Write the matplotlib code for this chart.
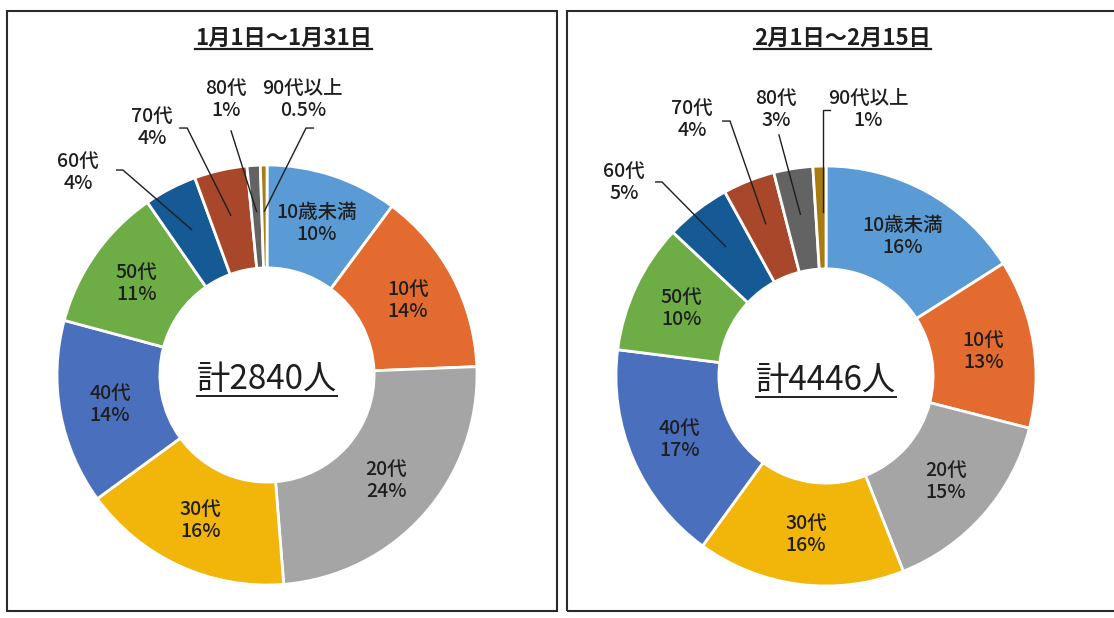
import matplotlib
matplotlib.use("Agg")
import matplotlib.pyplot as plt
from matplotlib.lines import Line2D
from matplotlib.patches import Rectangle
import numpy as np

plt.rcParams['font.family'] = ['Noto Sans CJK JP', 'DejaVu Sans']

# ---- data ----
categories = ["10歳未満", "10代", "20代", "30代", "40代", "50代", "60代", "70代", "80代", "90代以上"]
jan_values = [10, 14, 24, 16, 14, 11, 4, 4, 1, 0.5]
feb_values = [16, 13, 15, 16, 17, 10, 5, 4, 3, 1]
titles = ["1月1日～1月31日", "2月1日～2月15日"]
totals = ["計2840人", "計4446人"]

colors = ["#5B9BD5", "#E46B30", "#A5A5A5", "#F2B50A", "#4A70BD", "#6EAD45",
          "#155A94", "#A8472A", "#636363", "#A87B10"]

W, H = 1114, 618
fig = plt.figure(figsize=(W / 100, H / 100), dpi=100)
fig.patch.set_facecolor("white")

SCALE = 210.0  # px per data unit (outer radius)

# panel layout (pixels): left, top, right, bottom, and donut centre
panels = [
    dict(box=(7, 11, 557, 611), center=(267, 375),
         outside={6: ((-0.90, 0.965), (-0.686, 0.976)),
                  7: ((-0.548, 1.18), (-0.38, 1.176)),
                  8: ((-0.195, 1.31), (-0.171, 1.162)),
                  9: ((0.171, 1.31), (0.186, 1.176))}),
    dict(box=(567, 11, 1125, 611), center=(826, 376),
         outside={6: ((-0.962, 0.92), (-0.781, 0.924)),
                  7: ((-0.638, 1.22), (-0.457, 1.214)),
                  8: ((-0.238, 1.27), (-0.224, 1.148)),
                  9: ((0.20, 1.27), (-0.014, 1.267))}),
]
elbow_start = {6: -0.03, 7: -0.035, 8: 0.0, 9: 0.035}
TXT = "#1e1e1e"
LBL = dict(fontsize=14, fontweight="medium", color=TXT, linespacing=1.2,
           ha="center", va="center")

axes = []
for p, vals, title, total in zip(panels, [jan_values, feb_values], titles, totals):
    l, t, r, b = p["box"]
    cx, cy = p["center"]
    # frame
    fig.add_artist(Rectangle((l / W, 1 - b / H), (r - l) / W, (b - t) / H,
                             transform=fig.transFigure, fill=False,
                             edgecolor="#2a2a2a", linewidth=1.5, zorder=0))
    ax = fig.add_axes([l / W, 1 - b / H, (r - l) / W, (b - t) / H])
    wedges, _ = ax.pie(vals, colors=colors, startangle=90, counterclock=False,
                       radius=1.0, wedgeprops=dict(width=0.49, edgecolor="white", linewidth=2))
    ax.set_xlim(-(cx - l) / SCALE, (r - cx) / SCALE)
    ax.set_ylim(-(b - cy) / SCALE, (cy - t) / SCALE)
    ax.set_aspect("auto")
    ax.set_axis_off()

    for i, (w, name, v) in enumerate(zip(wedges, categories, vals)):
        mid = np.deg2rad((w.theta1 + w.theta2) / 2)
        label = f"{name}\n{v:g}%"
        if i in p["outside"]:
            (tx, ty), (ex, ey) = p["outside"][i]
            ax_, ay_ = 0.78 * np.cos(mid), 0.78 * np.sin(mid)
            if i == 9 and title.startswith("2"):
                ax_ = ex
            ax.text(tx, ty, label, **LBL)
            ax.plot([ex + elbow_start[i], ex, ax_], [ey, ey, ay_],
                    color=TXT, lw=1.0, solid_joinstyle="miter")
        else:
            ax.text(0.76 * np.cos(mid), 0.76 * np.sin(mid), label, **LBL)

    ttl = ax.text(0.08, (cy - 38) / SCALE, title, ha="center", va="center",
                  fontsize=16, fontweight="bold", color=TXT)
    ctr = ax.text(0, -0.02, total, ha="center", va="center", fontsize=24, color=TXT)
    axes.append((ax, ttl, ctr))

# underline titles and totals
fig.canvas.draw()
renderer = fig.canvas.get_renderer()
for ax, ttl, ctr in axes:
    for txt, lw in [(ttl, 1.6), (ctr, 1.4)]:
        bb = txt.get_window_extent(renderer)
        y = (bb.y0 + 1) / H
        fig.add_artist(Line2D([bb.x0 / W, bb.x1 / W], [y, y], color=TXT, lw=lw,
                              transform=fig.transFigure))

fig.savefig("out.png", dpi=100, facecolor="white")
